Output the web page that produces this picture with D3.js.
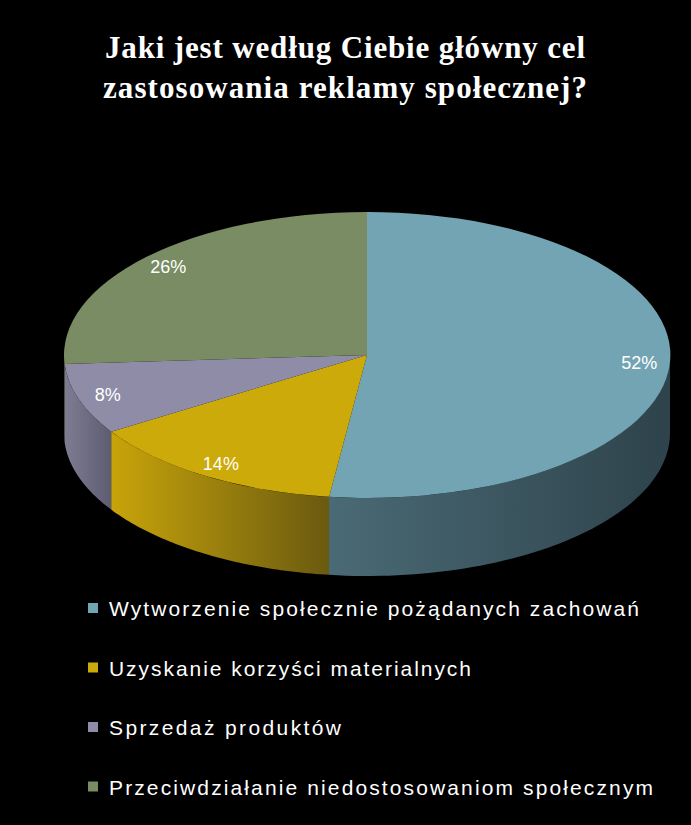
<!DOCTYPE html>
<html><head><meta charset="utf-8">
<script src="https://cdn.jsdelivr.net/npm/d3@7"></script>
<style>body{margin:0;background:#000}</style>
</head><body>
<svg id="chart" width="691" height="825"></svg>
<script>
// chart data
const categories = ["Wytworzenie społecznie pożądanych zachowań", "Uzyskanie korzyści materialnych", "Sprzedaż produktów", "Przeciwdziałanie niedostosowaniom społecznym"];
const values = [52, 14, 8, 26];
const topColors = ["#72a4b4", "#ccaa0a", "#8e8ca6", "#7a8c63"];
const sideColors = [["#2e434b", "#4a6a75"], ["#6a5a10", "#c8a40a"], ["#5e5c70", "#7e7c92"], ["#4f5c40", "#6a7a55"]];
const legendWidths = [530, 362, 232, 544];

const svg = d3.select("#chart");
svg.append("rect").attr("width", 691).attr("height", 825).attr("fill", "#000");

// title
const title = [["Jaki jest według Ciebie główny cel", 58, 480], ["zastosowania reklamy społecznej?", 98, 484]];
title.forEach(t => {
  svg.append("text").attr("x", 345).attr("y", t[1]).attr("text-anchor", "middle")
    .attr("font-family", "Liberation Serif").attr("font-weight", "bold").attr("font-size", 31)
    .attr("textLength", t[2]).attr("lengthAdjust", "spacing")
    .attr("fill", "#fff").text(t[0]);
});

const cx = 367, cy = 355, rx = 303, ry = 143, depth = 78;
const pie = d3.pie().sort(null).value(d => d)(values);
const pt = (a, dy = 0) => [cx + rx * Math.sin(a), cy - ry * Math.cos(a) + dy];

const defs = svg.append("defs");
sideColors.forEach((c, i) => {
  const g = defs.append("linearGradient").attr("id", "side" + i).attr("x1", "0").attr("x2", "1");
  g.append("stop").attr("offset", "0").attr("stop-color", c[1]);
  g.append("stop").attr("offset", "1").attr("stop-color", c[0]);
});

// side walls (front half only)
pie.forEach((p, i) => {
  const a0 = Math.max(p.startAngle, Math.PI / 2), a1 = Math.min(p.endAngle, 3 * Math.PI / 2);
  if (a1 <= a0) return;
  const steps = 60, top = [], bot = [];
  for (let k = 0; k <= steps; k++) {
    const a = a0 + (a1 - a0) * k / steps;
    top.push(pt(a)); bot.push(pt(a, depth));
  }
  svg.append("path").attr("d", d3.line()(top.concat(bot.reverse())) + "Z").attr("fill", `url(#side${i})`);
});

// top faces
const arc = d3.arc().innerRadius(0).outerRadius(1);
svg.append("g").attr("transform", `translate(${cx},${cy}) scale(${rx},${ry})`)
  .selectAll("path").data(pie).join("path")
  .attr("d", arc).attr("fill", (d, i) => topColors[i]);

// labels
svg.selectAll("text.lbl").data(pie).join("text").attr("class", "lbl")
  .attr("x", d => cx + rx * 0.9 * Math.sin((d.startAngle + d.endAngle) / 2))
  .attr("y", d => cy - ry * 0.9 * Math.cos((d.startAngle + d.endAngle) / 2) + 6)
  .attr("text-anchor", "middle").attr("font-family", "Liberation Sans").attr("font-size", 18)
  .attr("fill", "#fff").text(d => d.data + "%");

// legend
const lg = svg.append("g").selectAll("g").data(categories).join("g")
  .attr("transform", (d, i) => `translate(88,${609 + i * 59.5})`);
lg.append("rect").attr("x", 0).attr("y", -6).attr("width", 10).attr("height", 10)
  .attr("fill", (d, i) => topColors[i]);
lg.append("text").attr("x", 21).attr("y", 7).attr("font-family", "Liberation Sans")
  .attr("font-size", 21).attr("textLength", (d, i) => legendWidths[i]).attr("lengthAdjust", "spacing")
  .attr("fill", "#fff").text(d => d);
</script>
</body></html>
